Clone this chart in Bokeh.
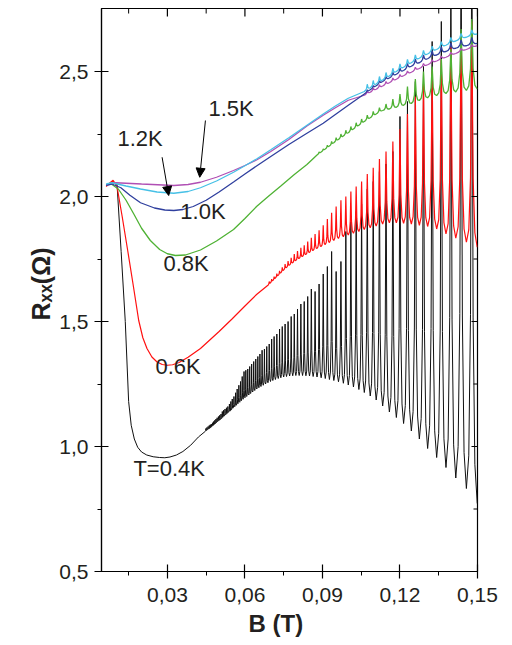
from bokeh.plotting import figure
from bokeh.models import Range1d, FixedTicker, Label, Arrow, NormalHead, Title
from bokeh.embed import file_html
from bokeh.resources import INLINE

# ---------------- data ----------------
# B positions (T) of the Shubnikov-de Haas minima, high field first
osc_B = [0.1499, 0.1457, 0.1416, 0.1378, 0.1342, 0.1307, 0.1275, 0.1244, 0.1214, 0.1186,
         0.1159, 0.1133, 0.1108, 0.1085, 0.1062, 0.1041, 0.1020, 0.1000, 0.0981, 0.0962,
         0.0944, 0.0927, 0.0911, 0.0895, 0.0879, 0.0864, 0.0850, 0.0836, 0.0823, 0.0810,
         0.0797, 0.0785, 0.0773, 0.0761, 0.0750, 0.0739, 0.0729, 0.0718, 0.0708, 0.0699,
         0.0689, 0.0680, 0.0671, 0.0662, 0.0654, 0.0646, 0.0638, 0.0630, 0.0622, 0.0615,
         0.0607, 0.0600, 0.0593, 0.0586, 0.0580, 0.0573, 0.0567, 0.0561, 0.0554, 0.0548,
         0.0543, 0.0537, 0.0531, 0.0526, 0.0520, 0.0515, 0.0510, 0.0505, 0.0500, 0.0495,
         0.0490, 0.0486, 0.0481, 0.0477, 0.0472, 0.0468, 0.0464, 0.0460, 0.0455, 0.0451, 0.0447]

# T = 0.4 K
k04_smooth_B = [0.0063, 0.0085, 0.0105, 0.0121, 0.0137, 0.0150, 0.0160, 0.0172, 0.0185, 0.0200,
                0.0220, 0.0245, 0.0270, 0.0290, 0.0310, 0.0335, 0.0360, 0.0390, 0.0420]
k04_smooth_R = [2.045, 2.055, 2.050, 1.780, 1.500, 1.180, 1.085, 1.030, 0.997, 0.978,
                0.966, 0.959, 0.956, 0.955, 0.958, 0.966, 0.980, 1.005, 1.038]
k04_valley_R = [0.772, 0.832, 0.874, 0.916, 0.956, 0.992, 1.030, 1.062, 1.092, 1.116,
                1.138, 1.162, 1.186, 1.202, 1.216, 1.228, 1.238, 1.246, 1.253, 1.259,
                1.264, 1.268, 1.272, 1.275, 1.278, 1.280, 1.282, 1.283, 1.284, 1.284,
                1.284, 1.283, 1.282, 1.280, 1.278, 1.275, 1.272, 1.268, 1.264, 1.260,
                1.255, 1.250, 1.245, 1.240, 1.235, 1.230, 1.224, 1.218, 1.212, 1.206,
                1.200, 1.195, 1.189, 1.183, 1.177, 1.171, 1.165, 1.159, 1.153, 1.147,
                1.142, 1.137, 1.132, 1.127, 1.122, 1.117, 1.112, 1.108, 1.104, 1.100,
                1.096, 1.092, 1.088, 1.084, 1.080, 1.076, 1.073, 1.070, 1.067, 1.064, 1.061]
k04_peak_R = [3.20, 3.10, 2.95, 2.70, 2.62, 2.52, 2.46, 2.38, 2.32, 2.18,
              2.13, 2.10, 2.06, 2.03, 1.97, 1.94, 1.90, 1.86, 1.74, 1.70,
              1.78, 1.72, 1.69, 1.65, 1.62, 1.63, 1.60, 1.58, 1.57, 1.55,
              1.53, 1.52, 1.50, 1.49, 1.48, 1.47, 1.45, 1.44, 1.43, 1.41,
              1.40, 1.39, 1.385, 1.37, 1.36, 1.35, 1.34, 1.33, 1.32, 1.31,
              1.305, 1.30, 1.28, 1.26, 1.245, 1.23, 1.215, 1.20, 1.19, 1.18,
              1.17, 1.16, 1.155, 1.15, 1.145, 1.14, 1.13, 1.125, 1.12, 1.115,
              1.11, 1.105, 1.10, 1.095, 1.09, 1.087, 1.084, 1.08, 1.076, 1.072]

# T = 0.6 K
k06_smooth_B = [0.0063, 0.0078, 0.0090, 0.0105, 0.0125, 0.0147, 0.0167, 0.0189, 0.0205, 0.0221,
                0.0240, 0.0260, 0.0280, 0.0300, 0.0320, 0.0345, 0.0380, 0.0428, 0.0500, 0.0550,
                0.0600, 0.0645]
k06_smooth_R = [2.040, 2.055, 2.065, 2.040, 1.920, 1.780, 1.650, 1.504, 1.435, 1.392,
                1.358, 1.338, 1.328, 1.325, 1.327, 1.336, 1.357, 1.392, 1.460, 1.510,
                1.562, 1.608]
k06_valley_R = [1.797, 1.817, 1.833, 1.850, 1.870, 1.880, 1.885, 1.890, 1.893, 1.895,
                1.895, 1.890, 1.882, 1.875, 1.868, 1.860, 1.853, 1.846, 1.839, 1.832,
                1.824, 1.816, 1.808, 1.800, 1.792, 1.784, 1.776, 1.768, 1.760, 1.752,
                1.744, 1.735, 1.726, 1.716, 1.706, 1.695, 1.685, 1.674, 1.664, 1.655, 1.645]
k06_peak_R = [2.70, 2.65, 2.60, 2.55, 2.50, 2.45, 2.40, 2.33, 2.27, 2.22,
              2.18, 2.15, 2.115, 2.09, 2.06, 2.04, 2.02, 2.00, 1.985, 1.96,
              1.935, 1.91, 1.885, 1.865, 1.85, 1.835, 1.82, 1.805, 1.795, 1.782,
              1.77, 1.755, 1.742, 1.73, 1.717, 1.703, 1.692, 1.68, 1.67, 1.66]

# T = 0.8 K
k08_smooth_B = [0.0063, 0.0079, 0.0110, 0.0140, 0.0170, 0.0200, 0.0234, 0.0270, 0.0300, 0.0331,
                0.0370, 0.0428, 0.0490, 0.0556, 0.0600, 0.0645, 0.0690, 0.0740, 0.0790, 0.0840]
k08_smooth_R = [2.045, 2.053, 2.030, 1.985, 1.930, 1.873, 1.824, 1.788, 1.771, 1.764,
                1.766, 1.786, 1.822, 1.868, 1.912, 1.960, 2.000, 2.043, 2.087, 2.128]
k08_valley_R = [2.430, 2.424, 2.418, 2.412, 2.404, 2.395, 2.384, 2.372, 2.365, 2.357,
                2.350, 2.344, 2.330, 2.315, 2.300, 2.285, 2.270, 2.255, 2.242, 2.228,
                2.215, 2.202, 2.190, 2.178, 2.166]
k08_peak_R = [2.71, 2.67, 2.59, 2.55, 2.52, 2.50, 2.47, 2.44, 2.41, 2.39,
              2.37, 2.355, 2.34, 2.325, 2.31, 2.295, 2.28, 2.265, 2.25, 2.235,
              2.22, 2.205, 2.19, 2.178]

# T = 1.0 K
k10_smooth_B = [0.0063, 0.0085, 0.0120, 0.0155, 0.0196, 0.0250, 0.0290, 0.0325, 0.0360, 0.0400,
                0.0450, 0.0500, 0.0556, 0.0600, 0.0645, 0.0700, 0.0770, 0.0840, 0.0903, 0.0950,
                0.1000]
k10_smooth_R = [2.045, 2.050, 2.035, 2.005, 1.975, 1.954, 1.946, 1.944, 1.948, 1.960,
                1.985, 2.018, 2.058, 2.090, 2.122, 2.160, 2.208, 2.253, 2.293, 2.328,
                2.365]
k10_valley_R = [2.612, 2.603, 2.593, 2.580, 2.566, 2.551, 2.535, 2.521, 2.504, 2.489,
                2.474, 2.460, 2.443, 2.427, 2.410]
k10_peak_R = [2.636, 2.626, 2.614, 2.599, 2.583, 2.566, 2.550, 2.532, 2.514, 2.497,
              2.480, 2.463, 2.444, 2.426]

# T = 1.2 K
k12_smooth_B = [0.0063, 0.0085, 0.0140, 0.0196, 0.0260, 0.0325, 0.0380, 0.0428, 0.0490, 0.0556,
                0.0600, 0.0645, 0.0700, 0.0770, 0.0840, 0.0903, 0.0950, 0.1000]
k12_smooth_R = [2.050, 2.055, 2.042, 2.030, 2.018, 2.013, 2.020, 2.035, 2.062, 2.097,
                2.123, 2.150, 2.187, 2.235, 2.285, 2.330, 2.362, 2.393]
k12_valley_R = [2.650, 2.637, 2.622, 2.605, 2.588, 2.570, 2.553, 2.535, 2.517, 2.500,
                2.482, 2.466, 2.450, 2.435, 2.420]
k12_peak_R = [2.666, 2.652, 2.636, 2.619, 2.601, 2.584, 2.566, 2.548, 2.530, 2.513,
              2.496, 2.480, 2.464, 2.449]

# T = 1.5 K
k15_smooth_B = [0.0063, 0.0100, 0.0200, 0.0325, 0.0380, 0.0428, 0.0490, 0.0556, 0.0600, 0.0645,
                0.0700, 0.0770, 0.0840, 0.0903, 0.0950, 0.1000]
k15_smooth_R = [2.045, 2.055, 2.050, 2.044, 2.048, 2.057, 2.077, 2.104, 2.124, 2.146,
                2.180, 2.228, 2.282, 2.325, 2.355, 2.385]
k15_valley_R = [2.603, 2.588, 2.572, 2.557, 2.542, 2.527, 2.512, 2.497, 2.483, 2.469,
                2.455, 2.442, 2.429, 2.417, 2.405]
k15_peak_R = [2.607, 2.592, 2.577, 2.562, 2.547, 2.532, 2.517, 2.502, 2.488, 2.474,
              2.460, 2.447, 2.435, 2.423]

x_major = [0.03, 0.06, 0.09, 0.12, 0.15]
x_minor = [0.015, 0.045, 0.075, 0.105, 0.135]
x_labels = ["0,03", "0,06", "0,09", "0,12", "0,15"]
y_major = [0.5, 1.0, 1.5, 2.0, 2.5]
y_minor = [0.75, 1.25, 1.75, 2.25]
y_labels = ["0,5", "1,0", "1,5", "2,0", "2,5"]

X_START, X_END = 0.0045, 0.15
Y_START, Y_END = 0.5, 2.752

# ---------------- drawing helpers (peak profile = style) ----------------
SHAPE_F = [0.0, 0.22, 0.38, 0.5, 0.62, 0.78]
SHAPE_W = [0.0, 0.06, 0.30, 1.0, 0.30, 0.06]


def build(smooth_B, smooth_R, valley_R, peak_R):
    xs = list(smooth_B)
    ys = list(smooth_R)
    n = len(valley_R)
    for k in range(n - 1, 0, -1):
        a, b = osc_B[k], osc_B[k - 1]
        la, lb = valley_R[k], valley_R[k - 1]
        h = peak_R[k - 1]
        mid = 0.5 * (la + lb)
        for f, w in zip(SHAPE_F, SHAPE_W):
            xs.append(a + f * (b - a))
            ys.append(la + f * (lb - la) + w * (h - mid))
    xs.append(osc_B[0])
    ys.append(valley_R[0])
    return xs, ys


FONT = "Liberation Sans"
TXT = "#231f20"

p = figure(width=505, height=645, output_backend="svg", toolbar_location=None,
           x_range=Range1d(X_START, X_END), y_range=Range1d(Y_START, Y_END),
           min_border_left=101, min_border_right=28, min_border_top=8, min_border_bottom=74)
p.xgrid.visible = False
p.ygrid.visible = False
p.outline_line_color = "black"
p.outline_line_width = 1.2
p.background_fill_color = "white"
p.border_fill_color = "white"

curves = [
    (k04_smooth_B, k04_smooth_R, k04_valley_R, k04_peak_R, "#101010", 1.0),
    (k06_smooth_B, k06_smooth_R, k06_valley_R, k06_peak_R, "#ff1010", 1.2),
    (k08_smooth_B, k08_smooth_R, k08_valley_R, k08_peak_R, "#4fb234", 1.3),
    (k15_smooth_B, k15_smooth_R, k15_valley_R, k15_peak_R, "#b04fb4", 1.3),
    (k10_smooth_B, k10_smooth_R, k10_valley_R, k10_peak_R, "#2f3f9e", 1.3),
    (k12_smooth_B, k12_smooth_R, k12_valley_R, k12_peak_R, "#46c0e6", 1.3),
]
for sb, sr, vr, pr, col, lw in curves:
    xs, ys = build(sb, sr, vr, pr)
    p.line(xs, ys, line_color=col, line_width=lw)

# inward ticks on the top and right frame edges (mirror of bottom/left ticks)
px_per_x = 376.0 / (X_END - X_START)
px_per_y = 563.0 / (Y_END - Y_START)
p.segment(x0=x_major, y0=[Y_END] * len(x_major), x1=x_major,
          y1=[Y_END - 8 / px_per_y] * len(x_major), line_color="black", line_width=1.2)
p.segment(x0=x_minor, y0=[Y_END] * len(x_minor), x1=x_minor,
          y1=[Y_END - 5 / px_per_y] * len(x_minor), line_color="black", line_width=1.0)
p.segment(x0=[X_END] * len(y_major), y0=y_major, x1=[X_END - 6 / px_per_x] * len(y_major),
          y1=y_major, line_color="black", line_width=1.2)
p.segment(x0=[X_END] * len(y_minor), y0=y_minor, x1=[X_END - 4 / px_per_x] * len(y_minor),
          y1=y_minor, line_color="black", line_width=1.0)

# axes
xt = FixedTicker(ticks=x_major, minor_ticks=x_minor)
yt = FixedTicker(ticks=y_major, minor_ticks=y_minor)

xa = p.xaxis[0]
xa.ticker = xt
xa.major_label_overrides = {v: s for v, s in zip(x_major, x_labels)}
ya = p.yaxis[0]
ya.ticker = yt
ya.major_label_overrides = {v: s for v, s in zip(y_major, y_labels)}

for ax in (xa, ya):
    ax.axis_line_color = "black"
    ax.axis_line_width = 1.2
    ax.major_tick_line_color = "black"
    ax.minor_tick_line_color = "black"
    ax.major_tick_line_width = 1.2
    ax.minor_tick_line_width = 1.0
    ax.major_tick_in = 7
    ax.major_tick_out = 7
    ax.minor_tick_in = 0
    ax.minor_tick_out = 4
    ax.major_label_text_font = FONT
    ax.major_label_text_font_size = "21px"
    ax.major_label_text_color = TXT

xa.major_label_standoff = 9
ya.major_label_standoff = 6

# axis titles as side titles, offset along the frame edge as in the original
p.add_layout(Title(text="Rₓₓ(Ω)", align="left", offset=251, standoff=4,
                   text_font=FONT, text_font_size="25px", text_font_style="bold",
                   text_color=TXT), "left")
p.add_layout(Title(text="B (T)", align="left", offset=147, standoff=6,
                   text_font=FONT, text_font_size="24px", text_font_style="bold",
                   text_color=TXT), "below")

# curve annotations
for tx, bx, ry in [("1.5K", 0.0459, 2.354), ("1.2K", 0.01065, 2.234), ("1.0K", 0.0350, 1.942),
                   ("0.8K", 0.02846, 1.734), ("0.6K", 0.02536, 1.322), ("T=0.4K", 0.01684, 0.914)]:
    p.add_layout(Label(x=bx, y=ry, text=tx, text_font=FONT, text_font_size="22px",
                       text_color=TXT, text_baseline="alphabetic", text_align="left"))

for xs0, ys0, xe, ye in [(0.02795, 2.157, 0.0305, 2.004), (0.04472, 2.304, 0.04251, 2.077)]:
    p.add_layout(Arrow(end=NormalHead(size=9, fill_color="black", line_color="black", line_width=1),
                       x_start=xs0, y_start=ys0, x_end=xe, y_end=ye,
                       line_color="black", line_width=1))

open("out.html", "w").write(file_html(p, INLINE))
